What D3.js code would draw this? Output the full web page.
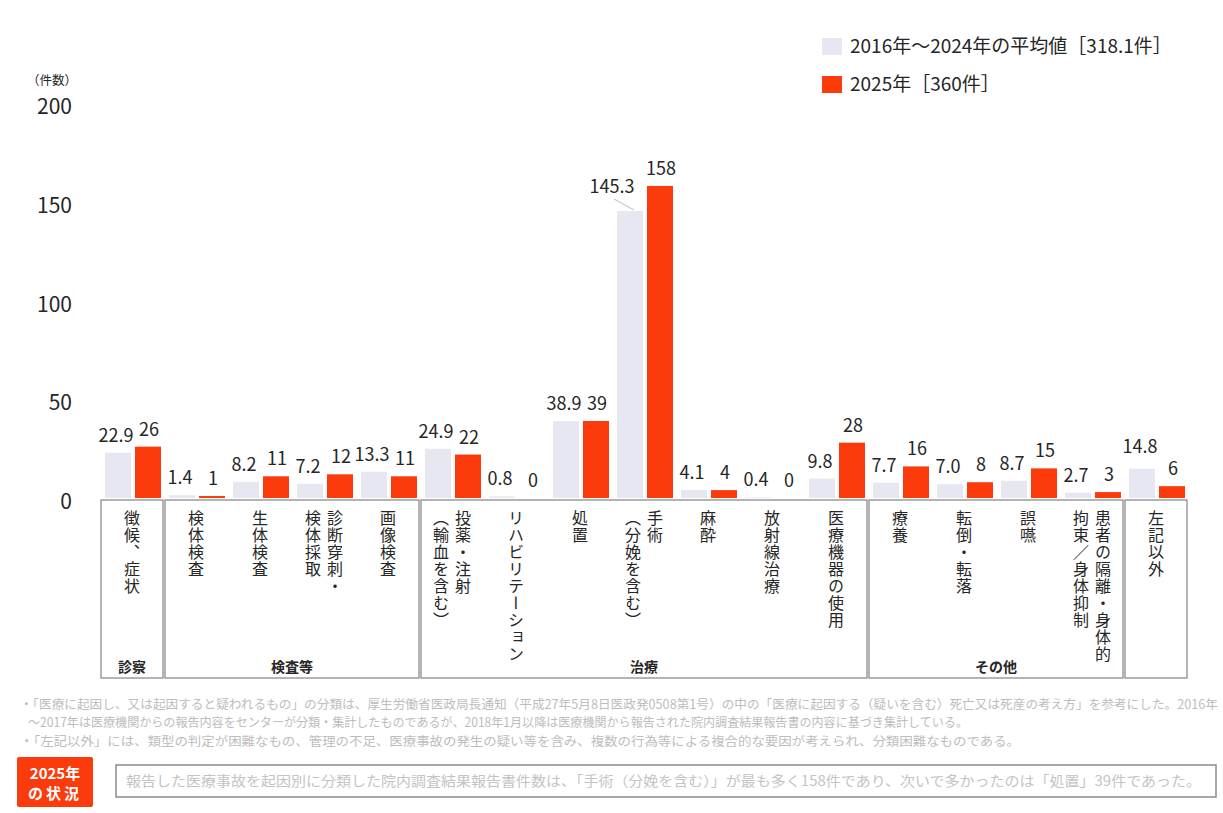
<!DOCTYPE html>
<html lang="ja">
<head>
<meta charset="utf-8">
<script src="https://cdn.jsdelivr.net/npm/d3@7"></script>
<style>
  html, body { margin: 0; padding: 0; background: #fff; }
  svg { display: block; font-family: "Noto Sans CJK JP", "Noto Sans", sans-serif; }
</style>
</head>
<body>
<svg id="chart" width="1223" height="813"></svg>
<script>
// ---- data ----
const categories = [
  "徴候、症状", "検体検査", "生体検査", "診断穿刺・|検体採取", "画像検査",
  "投薬・注射|（輸血を含む）", "リハビリテーション", "処置", "手術|（分娩を含む）",
  "麻酔", "放射線治療", "医療機器の使用",
  "療養", "転倒・転落", "誤嚥", "患者の隔離・身体的|拘束／身体抑制", "左記以外"
];
const avg2016to2024 = [22.9, 1.4, 8.2, 7.2, 13.3, 24.9, 0.8, 38.9, 145.3, 4.1, 0.4, 9.8, 7.7, 7.0, 8.7, 2.7, 14.8];
const count2025 = [26, 1, 11, 12, 11, 22, 0, 39, 158, 4, 0, 28, 16, 8, 15, 3, 6];
const groupNames = ["診察", "検査等", "治療", "その他", ""];
const groupSizes = [1, 4, 7, 4, 1];
const yTicks = [0, 50, 100, 150, 200];
const seriesNames = ["2016年～2024年の平均値［318.1件］", "2025年［360件］"];
const notes = [
  "・「医療に起因し、又は起因すると疑われるもの」の分類は、厚生労働省医政局長通知（平成27年5月8日医政発0508第1号）の中の「医療に起因する（疑いを含む）死亡又は死産の考え方」を参考にした。2016年",
  "～2017年は医療機関からの報告内容をセンターが分類・集計したものであるが、2018年1月以降は医療機関から報告された院内調査結果報告書の内容に基づき集計している。",
  "・「左記以外」には、類型の判定が困難なもの、管理の不足、医療事故の発生の疑い等を含み、複数の行為等による複合的な要因が考えられ、分類困難なものである。"
];
const summary = "報告した医療事故を起因別に分類した院内調査結果報告書件数は、「手術（分娩を含む）」が最も多く158件であり、次いで多かったのは「処置」39件であった。";

// ---- styles ----
const COLOR_AVG = "#e7e7f2";
const COLOR_2025 = "#fb3b0c";
const TEXT = "#262626";

const svg = d3.select("#chart");

const x = d3.scaleBand().domain(categories).range([100, 1188]);
const xs = d3.scaleBand().domain(["avg", "y2025"]).range([5, 61]).paddingInner(4 / 30);
const y = d3.scaleLinear().domain([0, 200]).range([498, 103]);

const rows = categories.map((c, i) => ({ cat: c, avg: avg2016to2024[i], cur: count2025[i] }));

// y axis (labels only)
const yAxis = d3.axisLeft(y).tickValues(yTicks).tickSize(0).tickPadding(0);
const gy = svg.append("g").attr("transform", "translate(72,4)").call(yAxis);
gy.select(".domain").remove();
gy.selectAll("text")
  .attr("font-size", 21)
  .attr("fill", TEXT)
  .attr("font-family", "\"Noto Sans CJK JP\", sans-serif");

svg.append("text")
  .attr("x", 27).attr("y", 85)
  .attr("font-size", 12.5).attr("fill", TEXT)
  .text("（件数）");

// bars
const bars = svg.append("g");
bars.selectAll("rect.avg").data(rows).join("rect")
  .attr("class", "avg")
  .attr("x", d => x(d.cat) + xs("avg"))
  .attr("width", xs.bandwidth())
  .attr("y", d => y(d.avg))
  .attr("height", d => y(0) - y(d.avg))
  .attr("fill", COLOR_AVG);
bars.selectAll("rect.cur").data(rows).join("rect")
  .attr("class", "cur")
  .attr("x", d => x(d.cat) + xs("y2025"))
  .attr("width", xs.bandwidth())
  .attr("y", d => y(d.cur))
  .attr("height", d => y(0) - y(d.cur))
  .attr("fill", COLOR_2025);

// value labels (a few are nudged to stay clear of taller neighbours)
const nudge = {
  "手術|（分娩を含む）": { dx: -16, dy: -7, leader: true },
  "左記以外": { dx: 0, dy: -5 }
};
const fmtAvg = d3.format(".1f");
const labels = svg.append("g").attr("font-size", 18).attr("fill", TEXT).attr("text-anchor", "middle");
rows.forEach(d => {
  const n = nudge[d.cat] || { dx: 0, dy: 0 };
  const gx = x(d.cat) + xs("avg") + xs.bandwidth() / 2 - 2 + n.dx;
  const gyv = y(d.avg) - 11 + n.dy;
  labels.append("text").attr("x", gx).attr("y", gyv).text(fmtAvg(d.avg));
  if (n.leader) {
    labels.append("line")
      .attr("x1", gx + 2).attr("y1", gyv + 6)
      .attr("x2", x(d.cat) + xs("avg") + xs.bandwidth() / 2 + 4).attr("y2", y(d.avg) - 1)
      .attr("stroke", "#c9c9d6").attr("stroke-width", 1.2);
  }
  labels.append("text")
    .attr("x", x(d.cat) + xs("y2025") + xs.bandwidth() / 2 + 1)
    .attr("y", y(d.cur) - 11)
    .text(d3.format("d")(d.cur));
});

// group boxes under the axis
const boxTop = y(0) + 2, boxBottom = 678;
let start = 0;
const groups = groupNames.map((g, i) => {
  const cats = categories.slice(start, start + groupSizes[i]);
  start += groupSizes[i];
  return { name: g, x0: x(cats[0]), x1: x(cats[cats.length - 1]) + x.bandwidth() };
});
const gBox = svg.append("g");
gBox.selectAll("rect").data(groups).join("rect")
  .attr("x", d => d.x0 + 1).attr("width", d => d.x1 - d.x0 - 2)
  .attr("y", boxTop).attr("height", boxBottom - boxTop)
  .attr("fill", "none").attr("stroke", "#8c8c8c").attr("stroke-width", 1.3);
gBox.selectAll("text").data(groups).join("text")
  .attr("x", d => (d.x0 + d.x1) / 2).attr("y", 672)
  .attr("text-anchor", "middle").attr("font-size", 14).attr("font-weight", "bold")
  .attr("fill", TEXT)
  .text(d => d.name);

// vertical category labels
const catG = svg.append("g").attr("font-size", 16).attr("fill", TEXT);
categories.forEach(c => {
  const cols = c.split("|");
  const cx = x(c) + x.bandwidth() / 2;
  cols.forEach((col, j) => {
    const off = cols.length === 1 ? 0 : 11 - 22 * j;
    catG.append("text")
      .attr("x", cx + off)
      .attr("y", 510)
      .style("writing-mode", "vertical-rl")
      .style("letter-spacing", "1px")
      .text(col);
  });
});

// legend
const legend = svg.append("g").attr("font-size", 19).attr("fill", TEXT);
[COLOR_AVG, COLOR_2025].forEach((col, i) => {
  const cy = 46 + i * 38;
  legend.append("rect").attr("x", 822).attr("y", cy - 8).attr("width", 20).attr("height", 17).attr("fill", col);
  legend.append("text").attr("x", 850).attr("y", cy).attr("dy", "0.35em").text(seriesNames[i]);
});

// notes
const noteG = svg.append("g").attr("font-size", 12.5).attr("fill", "#bdbdbd");
noteG.append("text").attr("x", 20).attr("y", 709).attr("textLength", 1198).attr("lengthAdjust", "spacingAndGlyphs").text(notes[0]);
noteG.append("text").attr("x", 28).attr("y", 727).attr("textLength", 940).attr("lengthAdjust", "spacingAndGlyphs").text(notes[1]);
noteG.append("text").attr("x", 20).attr("y", 746).attr("textLength", 1000).attr("lengthAdjust", "spacingAndGlyphs").text(notes[2]);

// 2025 status box
svg.append("rect").attr("x", 17).attr("y", 757).attr("width", 76).attr("height", 50).attr("rx", 2).attr("fill", COLOR_2025);
const st = svg.append("g").attr("fill", "#fff").attr("font-weight", "bold").attr("text-anchor", "middle").attr("font-size", 15);
st.append("text").attr("x", 55).attr("y", 779).text("2025年");
st.append("text").attr("x", 55).attr("y", 799).attr("letter-spacing", "3px").text("の状況");
svg.append("rect").attr("x", 116).attr("y", 765).attr("width", 1100).attr("height", 32)
  .attr("fill", "none").attr("stroke", "#8a8a8a").attr("stroke-width", 1.5);
svg.append("text").attr("x", 126).attr("y", 786).attr("font-size", 14).attr("fill", "#c4c4c4")
  .attr("textLength", 1075).attr("lengthAdjust", "spacingAndGlyphs").text(summary);
</script>
</body>
</html>
